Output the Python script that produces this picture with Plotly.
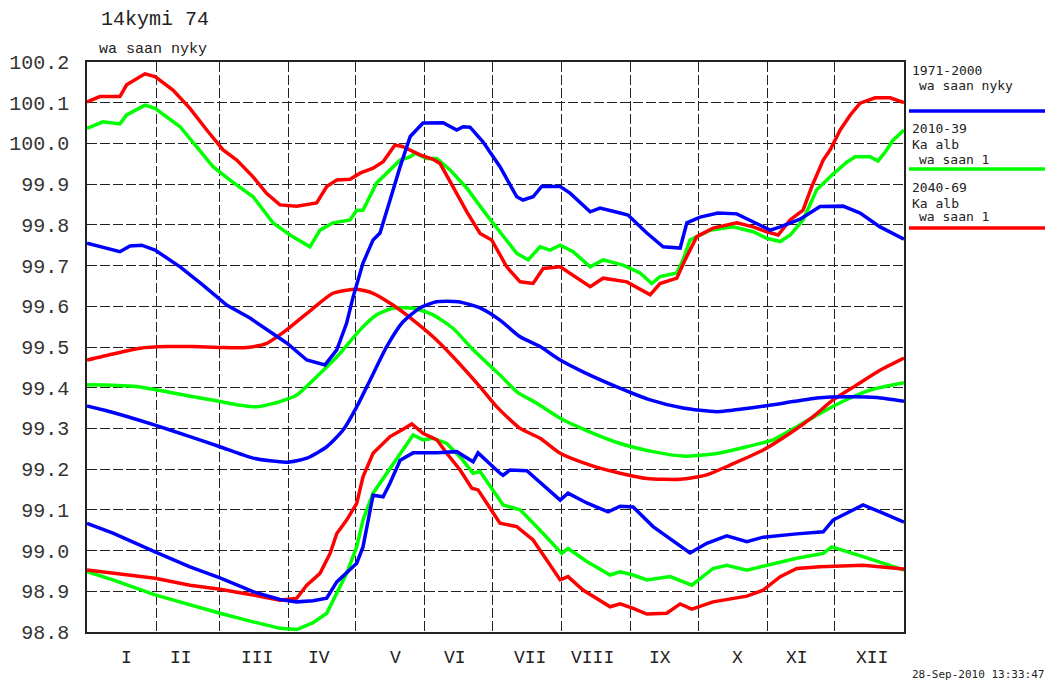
import plotly.graph_objects as go

# ---------------- data (day of year, water level) ----------------
months = ["I", "II", "III", "IV", "V", "VI", "VII", "VIII", "IX", "X", "XI", "XII"]
month_starts = [0, 31, 59, 90, 120, 151, 181, 212, 243, 273, 304, 334, 365]
month_label_days = [17.7, 42.2, 75.9, 103.6, 138, 164.4, 198, 226, 256, 290.4, 317.3, 350.8]
y_ticks = [98.8, 98.9, 99.0, 99.1, 99.2, 99.3, 99.4, 99.5, 99.6, 99.7, 99.8, 99.9, 100.0, 100.1, 100.2]

# 1971-2000 (blue)
blue_hi_day = [0, 5.8, 14.7, 19.2, 24.4, 30.4, 41.6, 51.8, 62.4, 72.8, 80.3, 89.2, 98.2, 106.3, 111.6, 116, 118.9,
               123.3, 127.8, 130.9, 135.4, 139.9, 144.4, 150.1, 159.1, 165.2, 168, 171.1, 176.9, 184.5, 192, 194.8,
               199.3, 203.2, 211.4, 215.8, 224.8, 229.2, 238.2, 241.7, 250.1, 257.4, 265, 268, 273.9, 281.9, 290.3,
               297.6, 305.2, 309.7, 318.6, 327.5, 337.8, 345.4, 354.3, 365]
blue_hi_val = [99.755, 99.746, 99.734, 99.748, 99.750, 99.738, 99.697, 99.652, 99.603, 99.571, 99.542, 99.510, 99.468,
               99.456, 99.493, 99.559, 99.623, 99.706, 99.763, 99.780, 99.861, 99.943, 100.017, 100.050, 100.051,
               100.033, 100.041, 100.040, 100.004, 99.943, 99.869, 99.861, 99.869, 99.895, 99.894, 99.878, 99.832,
               99.841, 99.829, 99.824, 99.780, 99.746, 99.743, 99.805, 99.819, 99.829, 99.827, 99.808, 99.787, 99.795,
               99.814, 99.845, 99.846, 99.829, 99.795, 99.765]
blue_mid_day = [0, 11.6, 30.4, 46, 59.4, 74.2, 89.2, 98.2, 107.1, 114.4, 120.5, 126.5, 133.9, 141.2, 148.8, 156.3,
                165.8, 175.6, 184.5, 193.5, 202.4, 211.4, 221.6, 236.7, 251.6, 266.3, 281.4, 296.2, 311, 326, 341,
                352.9, 365]
blue_mid_val = [99.355, 99.339, 99.308, 99.280, 99.255, 99.227, 99.217, 99.227, 99.255, 99.296, 99.353, 99.419, 99.501,
                99.562, 99.596, 99.611, 99.611, 99.596, 99.566, 99.525, 99.501, 99.468, 99.439, 99.402, 99.370, 99.350,
                99.341, 99.350, 99.362, 99.375, 99.378, 99.376, 99.367]
blue_lo_day = [0, 11.6, 30.4, 46, 59.4, 74.2, 86.2, 93.7, 101, 107.1, 111.6, 116, 120.5, 123.3, 126.5, 127.8, 132.3,
               135.4, 139.9, 145.7, 156.3, 165.2, 172.5, 174.7, 184.5, 185.9, 189, 196.5, 211.4, 214.9, 223.3, 232.8,
               238.2, 244, 252.9, 269.4, 276.9, 285.8, 294.8, 302.1, 317.1, 328.9, 333.3, 346.7, 354.3, 365]
blue_lo_val = [99.067, 99.043, 98.997, 98.960, 98.933, 98.899, 98.880, 98.874, 98.877, 98.883, 98.923, 98.945, 98.969,
               99.009, 99.100, 99.136, 99.132, 99.166, 99.222, 99.240, 99.240, 99.243, 99.218, 99.240, 99.190, 99.185,
               99.198, 99.196, 99.124, 99.141, 99.117, 99.095, 99.109, 99.107, 99.059, 98.994, 99.018, 99.036, 99.022,
               99.033, 99.041, 99.046, 99.075, 99.112, 99.095, 99.070]

# 2010-39 (green)
green_hi_day = [0, 7.1, 14.7, 17.7, 25.9, 30.4, 41.6, 49, 56.3, 63.9, 74.2, 83.1, 90.7, 99.6, 104.1, 109.9, 117.5,
                120.5, 123.3, 129.4, 135.4, 139.9, 144.3, 146.6, 151.8, 156.3, 162.2, 169.7, 178.6, 185.9, 192, 197.1,
                202.4, 206.9, 211.4, 217.2, 224.8, 230.6, 239.5, 247.1, 252.3, 256, 263.5, 266.3, 269.4, 278.4, 288.6,
                297.6, 303.7, 309.7, 314.2, 319.9, 326, 332, 339.4, 343.2, 349.9, 353.4, 356.6, 360.1, 365]
green_hi_val = [100.037, 100.053, 100.048, 100.070, 100.094, 100.086, 100.041, 99.992, 99.943, 99.910, 99.869, 99.805,
                99.775, 99.746, 99.787, 99.805, 99.812, 99.836, 99.836, 99.903, 99.935, 99.959, 99.967, 99.976, 99.963,
                99.963, 99.935, 99.890, 99.824, 99.771, 99.730, 99.714, 99.746, 99.738, 99.750, 99.734, 99.697, 99.714,
                99.701, 99.682, 99.656, 99.673, 99.682, 99.714, 99.763, 99.787, 99.795, 99.783, 99.767, 99.759, 99.775,
                99.812, 99.886, 99.918, 99.954, 99.967, 99.967, 99.957, 99.979, 100.008, 100.033]
green_mid_day = [0, 11.6, 23.7, 35.6, 47.4, 59.4, 68.4, 75.8, 86.2, 93.7, 104.1, 113, 122, 129.4, 136.7, 145.7,
                 154.6, 163.5, 172.5, 184.5, 192, 200.9, 211.4, 224.8, 238.2, 252.9, 266.3, 279.7, 294.8, 306.5,
                 317.1, 327.5, 339.5, 349.9, 365]
green_mid_val = [99.407, 99.406, 99.402, 99.390, 99.378, 99.366, 99.357, 99.353, 99.366, 99.382, 99.435, 99.484, 99.542,
                 99.579, 99.595, 99.595, 99.579, 99.546, 99.493, 99.431, 99.390, 99.362, 99.325, 99.291, 99.263, 99.243,
                 99.232, 99.237, 99.255, 99.272, 99.304, 99.337, 99.371, 99.394, 99.412]
green_lo_day = [0, 11.6, 30.4, 46, 59.4, 74.2, 86.2, 93.7, 101, 107.1, 111.6, 116, 120.5, 123.3, 127.8, 133.9, 139.9,
                145.7, 150.1, 154.6, 160.7, 166.7, 172.5, 175.6, 185.9, 193.5, 202.4, 212.1, 214.9, 223.3, 233.7,
                238.2, 244, 250.1, 260.5, 270.2, 279.7, 285.8, 294.8, 302.1, 317.1, 328.9, 332.7, 346.7, 365]
green_lo_val = [98.948, 98.928, 98.891, 98.866, 98.846, 98.825, 98.809, 98.806, 98.823, 98.846, 98.895, 98.944, 99.009,
                99.075, 99.141, 99.190, 99.235, 99.284, 99.272, 99.276, 99.263, 99.230, 99.190, 99.194, 99.112, 99.100,
                99.050, 98.993, 99.005, 98.973, 98.940, 98.948, 98.940, 98.928, 98.936, 98.915, 98.956, 98.964, 98.952,
                98.962, 98.981, 98.993, 99.009, 98.985, 98.952]

# 2040-69 (red)
red_hi_day = [0, 5.8, 14.7, 17.7, 25.9, 30.4, 38.4, 46, 53.5, 60.8, 66.9, 74.2, 80.3, 86.2, 93.7, 102.6, 107.1, 111.6,
              117.5, 122, 127.8, 132.3, 137.6, 141.2, 148.8, 154.6, 157.7, 163.5, 169.7, 175.6, 180.8, 187.5, 193.5,
              199.3, 203.8, 211.4, 224.8, 230.6, 241.2, 251.6, 256, 263.5, 267.2, 272.4, 279.7, 290.3, 297.6, 303.7,
              308.8, 314.1, 319.9, 323.8, 328.9, 332, 336.5, 341, 345.4, 352.1, 358.8, 365]
red_hi_val = [100.102, 100.115, 100.115, 100.144, 100.171, 100.164, 100.131, 100.086, 100.033, 99.984, 99.959, 99.918,
              99.877, 99.849, 99.846, 99.854, 99.894, 99.910, 99.912, 99.927, 99.939, 99.955, 99.996, 99.992, 99.972,
              99.961, 99.951, 99.894, 99.832, 99.779, 99.763, 99.697, 99.660, 99.656, 99.693, 99.697, 99.648, 99.669,
              99.660, 99.628, 99.656, 99.669, 99.714, 99.771, 99.792, 99.805, 99.795, 99.783, 99.775, 99.812, 99.836,
              99.894, 99.959, 99.984, 100.033, 100.070, 100.099, 100.112, 100.112, 100.100]
red_mid_day = [0, 11.6, 23.7, 35.6, 47.4, 59.4, 71.4, 80.3, 89.2, 101, 109.9, 120.5, 127.8, 136.7, 145.7, 154.6,
               163.5, 175.6, 183.1, 193.5, 202.4, 211.4, 224.8, 238.2, 250.1, 265, 276.9, 287.3, 302.1, 314.1, 324.4,
               333.3, 343.9, 354.3, 365]
red_mid_val = [99.468, 99.483, 99.497, 99.501, 99.501, 99.499, 99.499, 99.509, 99.542, 99.595, 99.632, 99.642, 99.632,
               99.603, 99.566, 99.525, 99.476, 99.402, 99.353, 99.300, 99.276, 99.239, 99.210, 99.190, 99.177, 99.175,
               99.186, 99.210, 99.247, 99.288, 99.329, 99.370, 99.407, 99.443, 99.473]
red_lo_day = [0, 14.7, 30.4, 46, 59.4, 74.2, 86.2, 93.7, 98.2, 104.1, 108.6, 111.6, 116, 120.5, 123.3, 127.8, 135.4,
              141.2, 145.1, 150.1, 156.3, 160.7, 166.7, 171.9, 174.7, 184.5, 192, 199.3, 211.4, 214.9, 221.6, 233.7,
              238.2, 244, 250.1, 259, 265, 270.2, 279.7, 294.8, 302.1, 309.7, 317.1, 327.5, 346.7, 365]
red_lo_val = [98.952, 98.942, 98.932, 98.915, 98.905, 98.891, 98.878, 98.883, 98.915, 98.944, 98.993, 99.042, 99.075,
              99.116, 99.181, 99.239, 99.280, 99.298, 99.311, 99.288, 99.272, 99.239, 99.198, 99.153, 99.149, 99.067,
              99.059, 99.026, 98.928, 98.936, 98.903, 98.862, 98.869, 98.858, 98.844, 98.846, 98.869, 98.856, 98.874,
              98.888, 98.903, 98.936, 98.956, 98.960, 98.964, 98.955]

# ---------------- figure ----------------
FONT = "Liberation Mono"
SMALL_FONT = "DejaVu Sans Mono"
BLUE, GREEN, RED = "#0000ff", "#00ff00", "#ff0000"
LW = 3.5

fig = go.Figure()
series = [
    (green_hi_day, green_hi_val, GREEN, "linear"), (green_mid_day, green_mid_val, GREEN, "spline"),
    (green_lo_day, green_lo_val, GREEN, "linear"),
    (red_hi_day, red_hi_val, RED, "linear"), (red_mid_day, red_mid_val, RED, "spline"),
    (red_lo_day, red_lo_val, RED, "linear"),
    (blue_hi_day, blue_hi_val, BLUE, "linear"), (blue_mid_day, blue_mid_val, BLUE, "spline"),
    (blue_lo_day, blue_lo_val, BLUE, "linear"),
]
for d, v, c, shp in series:
    line = dict(color=c, width=LW, shape=shp)
    if shp == "spline":
        line["smoothing"] = 0.6
    fig.add_trace(go.Scatter(x=d, y=v, mode="lines", line=line, showlegend=False, hoverinfo="skip"))

# page places the figure at an 8px body offset; work in page pixels and subtract it
OFF = 8
W, H = 1053 - OFF, 684 - OFF
PL, PR, PT, PB = 87, 904, 62, 632          # plot area in page pixels
L, R, T, B = PL - OFF, W - (PR - OFF), PT - OFF, H - (PB - OFF)
pw, ph = W - L - R, H - T - B


def px(xp):
    return (xp - OFF - L) / pw


def py(yp):
    return (H - B - (yp - OFF)) / ph


fig.update_layout(
    width=W, height=H, autosize=False,
    margin=dict(l=L, r=R, t=T, b=B, pad=0),
    paper_bgcolor="white", plot_bgcolor="white",
    font=dict(family=FONT, color="#222222"),
    xaxis=dict(range=[0, 365], tickvals=month_starts, showticklabels=False, ticks="", automargin=False,
               showgrid=True, gridcolor="#222222", gridwidth=1, griddash="10px,3px",
               showline=True, linecolor="#222222", linewidth=1.5, mirror=True, zeroline=False),
    yaxis=dict(range=[98.8, 100.2], tickvals=y_ticks, tickformat=".1f", ticks="", automargin=False,
               ticklabelstandoff=12,
               tickfont=dict(family=FONT, size=20, color="#333333"),
               showgrid=True, gridcolor="#222222", gridwidth=1, griddash="10px,3px",
               showline=True, linecolor="#222222", linewidth=1.5, mirror=True, zeroline=False),
)

ann = []
for d, m in zip(month_label_days, months):
    ann.append(dict(x=d, xref="x", y=py(658), yref="paper", text=m, showarrow=False,
                    font=dict(family=FONT, size=18, color="#222222"), xanchor="center", yanchor="middle"))

ann.append(dict(x=px(155), y=py(20), xref="paper", yref="paper", text="14kymi 74", showarrow=False,
                font=dict(family=FONT, size=20, color="#222222"), xanchor="center", yanchor="middle"))
ann.append(dict(x=px(97), y=py(50), xref="paper", yref="paper", text="wa saan nyky", showarrow=False,
                font=dict(family=FONT, size=15, color="#222222"), xanchor="left", yanchor="middle"))

legend_text = [
    ("1971-2000", 910, 70), ("wa saan nyky", 917, 85),
    ("2010-39", 910, 128), ("Ka alb", 910, 144), ("wa saan 1", 917, 159),
    ("2040-69", 910, 187), ("Ka alb", 910, 203), ("wa saan 1", 917, 217),
]
for t, xp, yp in legend_text:
    ann.append(dict(x=px(xp), y=py(yp), xref="paper", yref="paper", text=t, showarrow=False,
                    font=dict(family=SMALL_FONT, size=13, color="#222222"), xanchor="left", yanchor="middle"))

ann.append(dict(x=px(1046), y=py(674), xref="paper", yref="paper", text="28-Sep-2010 13:33:47",
                showarrow=False, font=dict(family=SMALL_FONT, size=11, color="#222222"),
                xanchor="right", yanchor="middle"))
fig.update_layout(annotations=ann)

shapes = []
for c, yp in [(BLUE, 111), (GREEN, 169), (RED, 228)]:
    shapes.append(dict(type="line", xref="paper", yref="paper", x0=px(909), x1=px(1045),
                       y0=py(yp), y1=py(yp), line=dict(color=c, width=3.5)))
fig.update_layout(shapes=shapes)

fig.write_html("out.html")
